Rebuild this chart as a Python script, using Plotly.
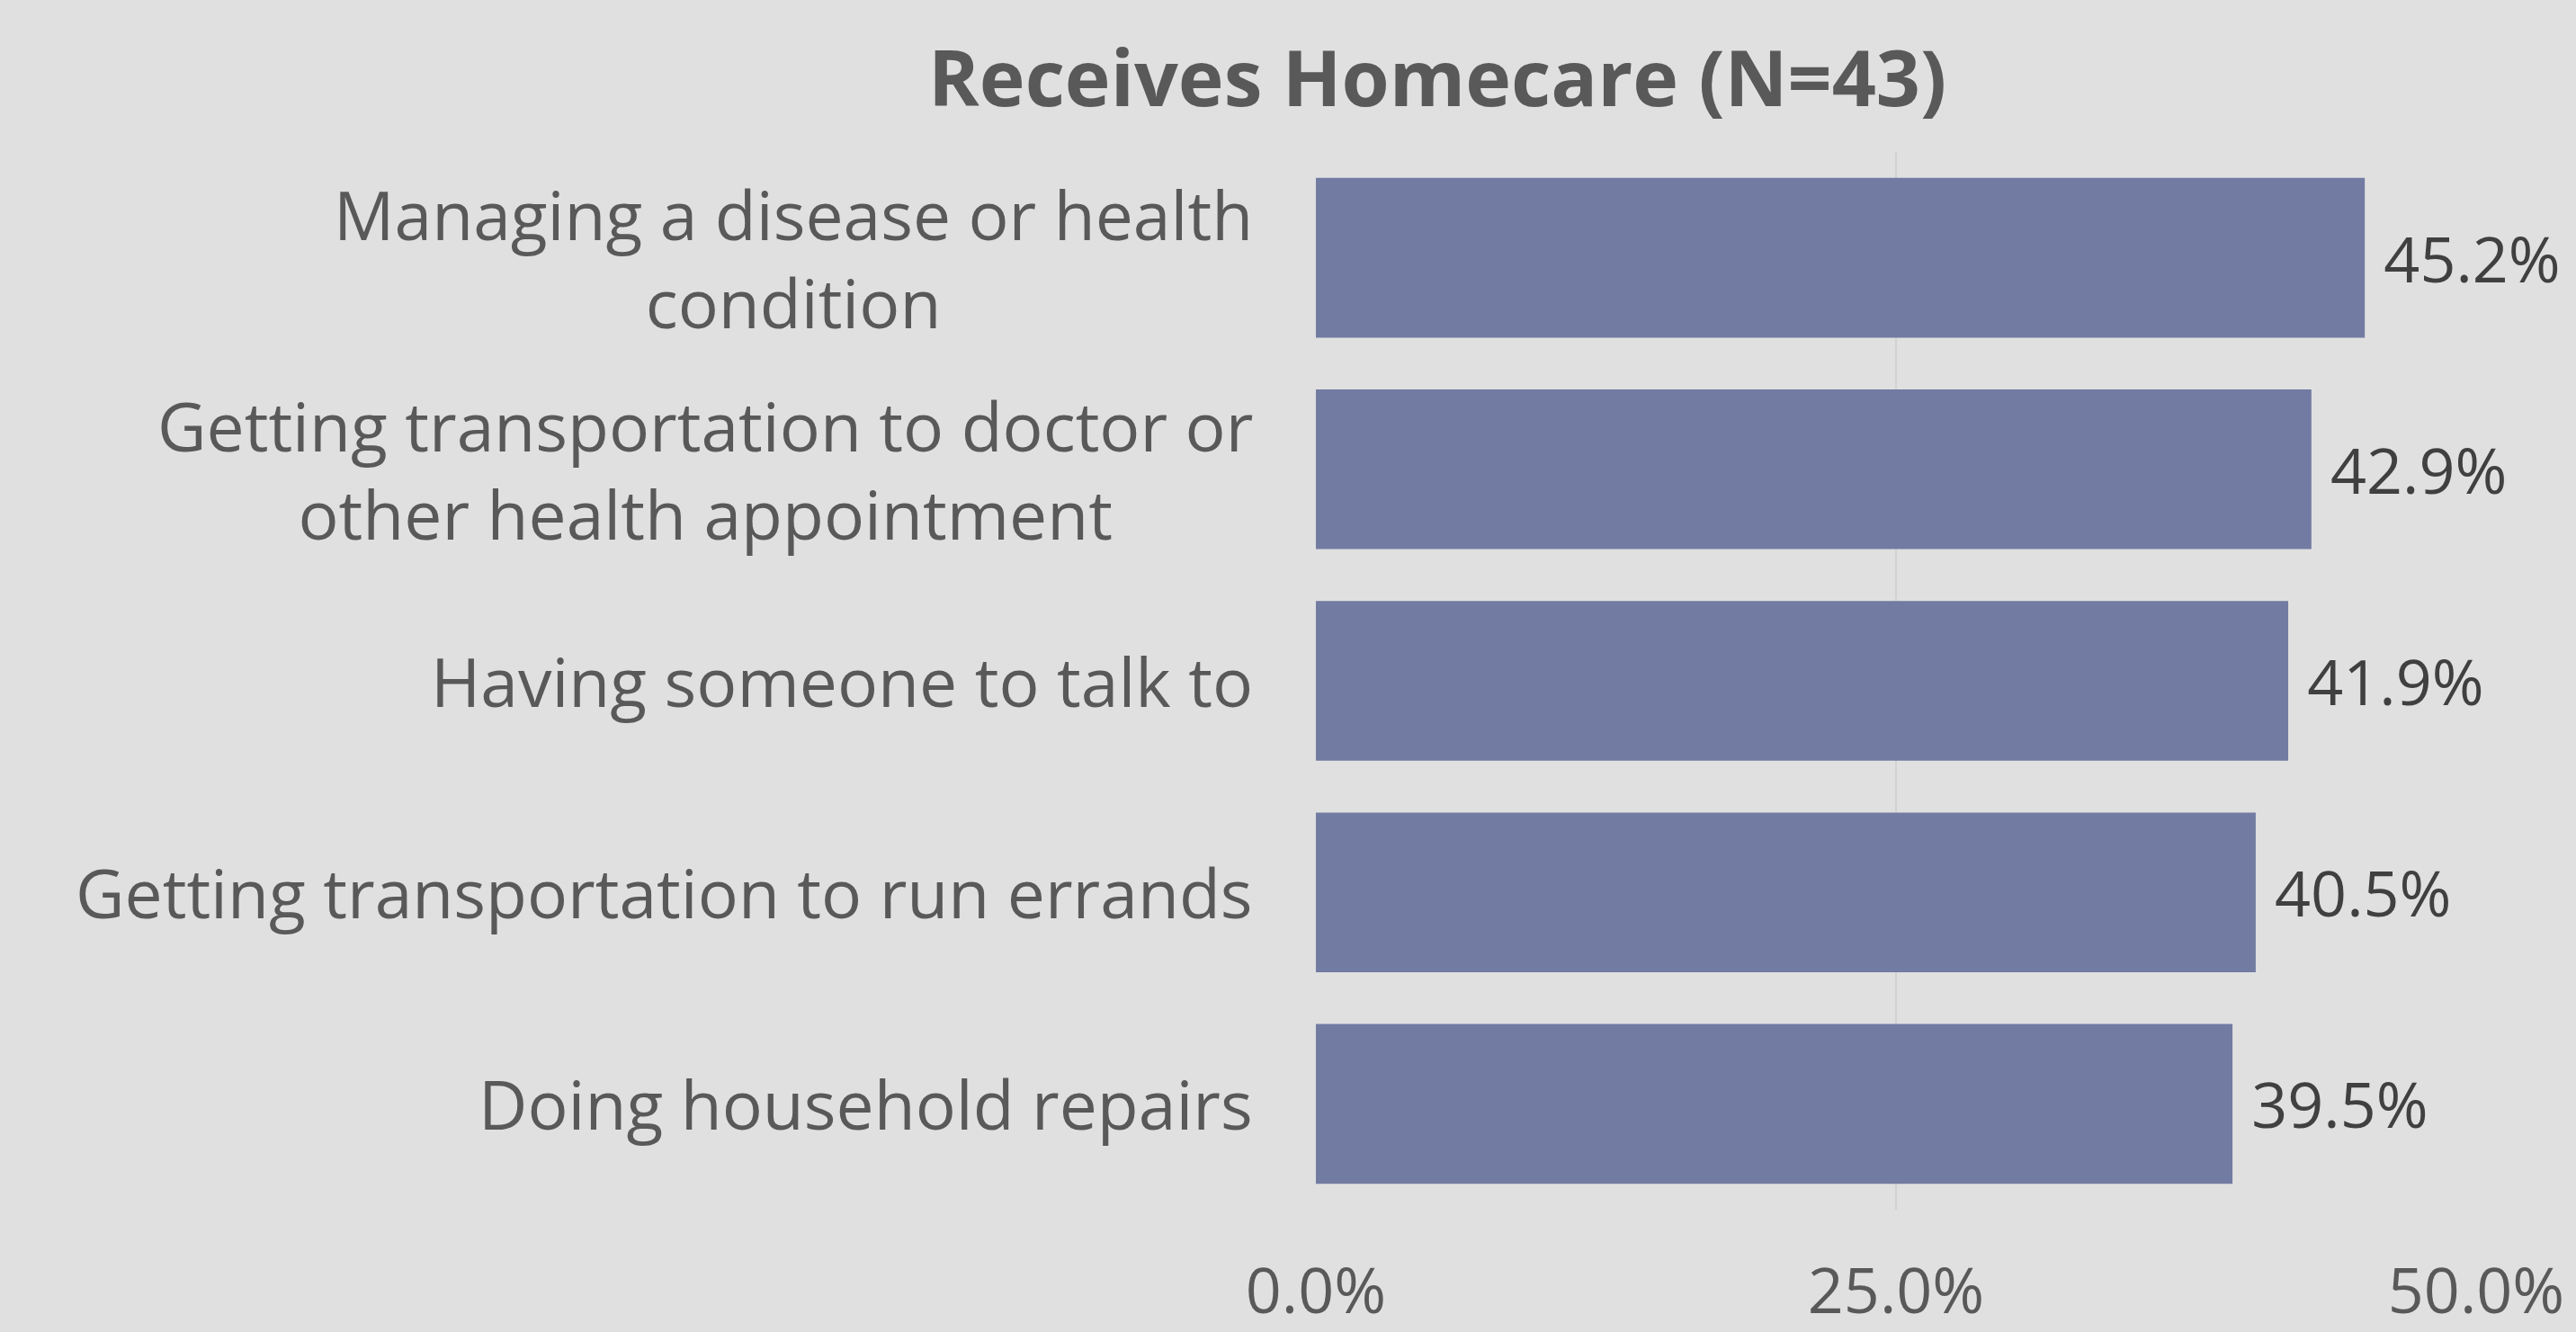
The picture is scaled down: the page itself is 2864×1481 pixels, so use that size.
import plotly.graph_objects as go

# Data (top to bottom as shown)
categories = [
    "Managing a disease or health<br>condition",
    "Getting transportation to doctor or<br>other health appointment",
    "Having someone to talk to",
    "Getting transportation to run errands",
    "Doing household repairs",
]
values = [0.452, 0.429, 0.419, 0.405, 0.395]
value_labels = ["45.2%", "42.9%", "41.9%", "40.5%", "39.5%"]
tick_vals = [0.0, 0.25, 0.5]
tick_text = ["0.0%", "25.0%", "50.0%"]
title_text = "Receives Homecare (N=43)"

FONT = "Open Sans"
BG = "#e0e0e0"
BAR = "#727ba2"

fig = go.Figure(
    go.Bar(
        x=values,
        y=categories,
        orientation="h",
        marker=dict(color=BAR, line=dict(width=0)),
        text=value_labels,
        texttemplate="\u00a0%{text}",
        textposition="outside",
        textfont=dict(family=FONT, size=70, color="#404040"),
        cliponaxis=False,
        hoverinfo="skip",
    )
)

# Category labels as annotations (centered multi-line text, right-aligned block)
for cat in categories:
    fig.add_annotation(
        x=0, xref="paper", y=cat, yref="y",
        text=cat, showarrow=False,
        xanchor="right", yanchor="middle", xshift=-68,
        align="center",
        font=dict(family=FONT, size=75, color="#595959"),
    )

fig.update_layout(
    width=2864, height=1481,
    paper_bgcolor=BG, plot_bgcolor=BG,
    margin=dict(l=1463, r=111, t=169, b=136, autoexpand=False),
    bargap=0.245,
    showlegend=False,
    title=dict(
        text=f"<b>{title_text}</b>",
        x=0.558, xref="container", xanchor="center",
        y=1 - 88 / 1481, yref="container", yanchor="middle",
        font=dict(family=FONT, size=86, color="#595959"),
    ),
    xaxis=dict(
        range=[0, 0.5],
        tickvals=tick_vals, ticktext=tick_text,
        showgrid=True, gridcolor="#d2d2d2", gridwidth=2,
        zeroline=False, showline=False, ticks="",
        tickfont=dict(family=FONT, size=70, color="#595959"),
        ticklabelstandoff=44,
        automargin=False,
        fixedrange=True,
    ),
    yaxis=dict(
        autorange="reversed",
        showticklabels=False, showgrid=False, zeroline=False, showline=False,
        ticks="", fixedrange=True, automargin=False,
    ),
)

fig.write_html("out.html")
